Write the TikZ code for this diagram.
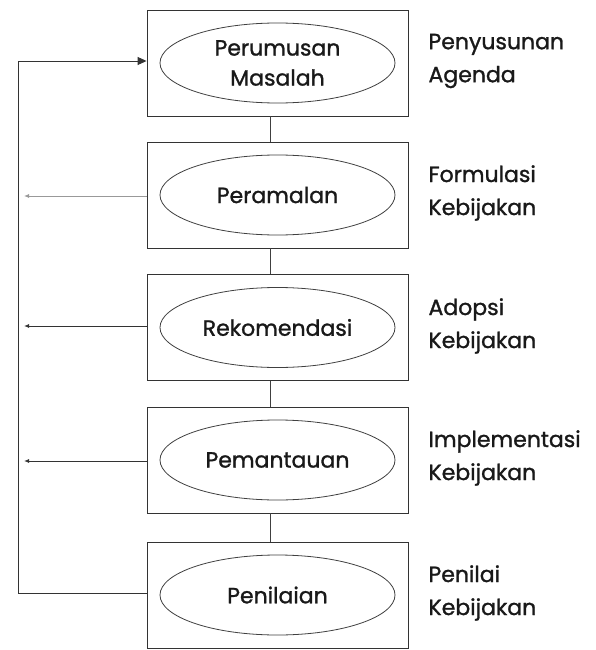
\documentclass[tikz,border=0pt]{standalone}
\usepackage{fontspec}
\setmainfont{Poppins}[FakeBold=1.2]
\usetikzlibrary{arrows.meta,shapes.geometric}
\begin{document}
\begin{tikzpicture}[x=1pt,y=-1pt,
  stagebox/.style={draw=black!80,line width=0.9pt,minimum width=261pt,minimum height=106pt,inner sep=0pt},
  stageoval/.style={draw=black!75,line width=0.8pt,ellipse,minimum width=235pt,minimum height=80pt,inner sep=0pt,
    font=\fontsize{22}{30}\selectfont,align=center,text=black!90},
  phase/.style={anchor=west,align=left,font=\fontsize{22}{33}\selectfont,text=black!90},
  link/.style={draw=black!75,line width=0.8pt},
  back/.style={draw=black!80,line width=0.9pt,-{Latex[length=5pt,width=4pt]}}]
\useasboundingbox (0,0) rectangle (595,650);
\fill[white] (0,0) rectangle (595,650);

% stage boxes with their ellipses
\node[stagebox] (b1) at (277.5,63) {};
\node[stagebox] (b2) at (277.5,195) {};
\node[stagebox] (b3) at (277.5,327.5) {};
\node[stagebox] (b4) at (277.5,460) {};
\node[stagebox] (b5) at (277.5,595) {};

\node[stageoval] (e1) at (b1.center) {Perumusan\\Masalah};
\node[stageoval] (e2) at (b2.center) {Peramalan};
\node[stageoval] (e3) at (b3.center) {Rekomendasi};
\node[stageoval] (e4) at (b4.center) {Pemantauan};
\node[stageoval] (e5) at (b5.center) {Penilaian};

% phase labels on the right
\node[phase] (l1) at (425,61) {Penyusunan\\Agenda};
\node[phase] (l2) at (425,193) {Formulasi\\Kebijakan};
\node[phase] (l3) at (425,326) {Adopsi\\Kebijakan};
\node[phase] (l4) at (425,458) {Implementasi\\Kebijakan};
\node[phase] (l5) at (425,593) {Penilai\\Kebijakan};

% vertical links between boxes
\foreach \a/\b in {b1/b2,b2/b3,b3/b4,b4/b5}
  \draw[link] ([xshift=-7.5pt]\a.south) -- ([xshift=-7.5pt]\b.north);

% feedback loop back to the first stage
\coordinate (loopbot) at (18,593);
\coordinate (looptop) at (18,61);
\draw[black!80,line width=0.9pt,-{Triangle[length=9pt,width=8pt]}]
  (b5.west |- loopbot) -- (loopbot) -- (looptop) -- (b1.west |- looptop);

% feedback arrows from the middle stages
\coordinate (f2) at (24,196);
\coordinate (f3) at (24,326);
\coordinate (f4) at (24,461);
\draw[back,draw=black!40] (b2.west |- f2) -- (f2);
\draw[back] (b3.west |- f3) -- (f3);
\draw[back] (b4.west |- f4) -- (f4);
\end{tikzpicture}
\end{document}
